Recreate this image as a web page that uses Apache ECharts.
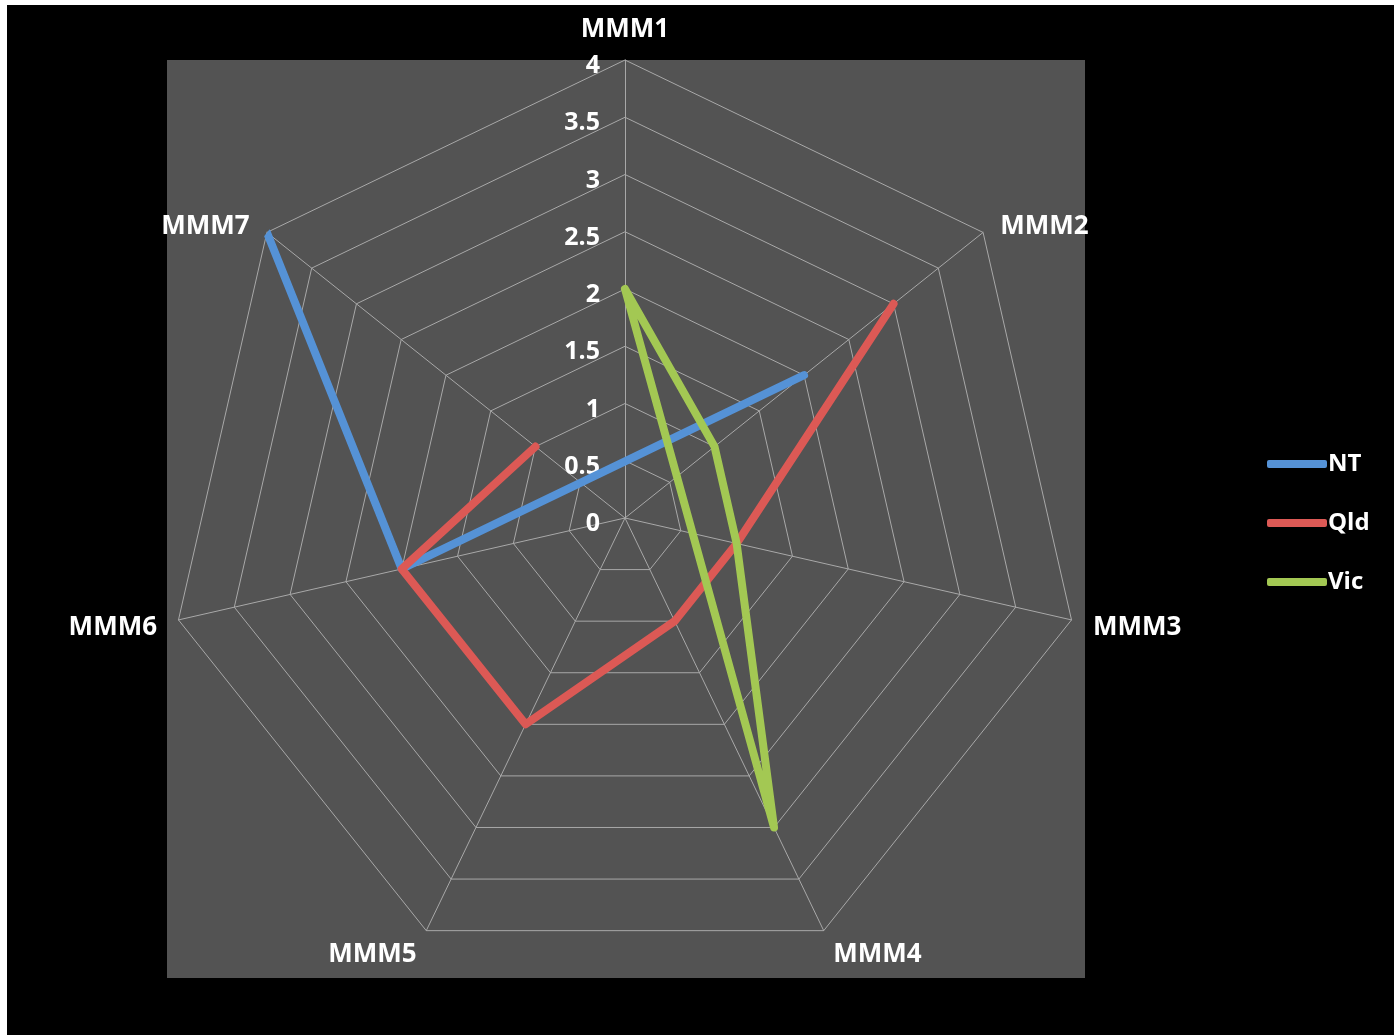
<!DOCTYPE html>
<html>
<head>
<meta charset="utf-8">
<script src="https://cdn.jsdelivr.net/npm/echarts@6/dist/echarts.min.js"></script>
<style>
  html, body { margin: 0; padding: 0; background: #000; }
  #chart { width: 1394px; height: 1035px; }
</style>
</head>
<body>
<div id="chart"></div>
<script>
// categories round the radar, clockwise from the top
const categories = ['MMM1', 'MMM2', 'MMM3', 'MMM4', 'MMM5', 'MMM6', 'MMM7']
const tickLabels = ['0', '0.5', '1', '1.5', '2', '2.5', '3', '3.5', '4']
// null = empty cell in the sheet
const ntValues = [null, 2, null, null, null, 2, 4]
const qldValues = [null, 3, 1, 1, 2, 2, 1]
const vicValues = [2, 1, 1, 3, null, null, null]
const seriesNames = ['NT', 'Qld', 'Vic']
const colors = ['#5592d6', '#dc5955', '#a3c853']

const CX = 625, CY = 518, R = 458
const font = '"Open Sans", "Liberation Sans", sans-serif'

// excel style: skip blanks, only close the loop if the first cell is filled
function toPolar(values) {
  const pts = []
  values.forEach((v, i) => { if (v != null) pts.push([v, i]) })
  if (values[0] != null) pts.push([values[0], 0])
  return pts
}

// radar lays indicators out counter-clockwise, so feed them reversed
const radarOrder = [categories[0]].concat(categories.slice(1).reverse())
// label nudges, by position round the chart
const nameStyleKey = ['top', 'upper', 'side', 'bottom', 'bottom', 'side', 'upper']
const nameBase = { fontFamily: font, fontWeight: 'bold', fontSize: 26, color: '#fff' }

const chart = echarts.init(document.getElementById('chart'))
chart.setOption({
  backgroundColor: '#000',
  animation: false,
  graphic: [
    { type: 'rect', z: -100, shape: { x: 167, y: 60, width: 918, height: 918 }, style: { fill: '#535353' } },
    { type: 'rect', z: -100, shape: { x: 0, y: 0, width: 1394, height: 5 }, style: { fill: '#fff' } },
    { type: 'rect', z: -100, shape: { x: 0, y: 0, width: 7, height: 1035 }, style: { fill: '#fff' } }
  ],
  radar: {
    center: [CX, CY],
    radius: R,
    startAngle: 90,
    shape: 'polygon',
    splitNumber: 8,
    indicator: radarOrder.map(c => ({ name: c, min: 0, max: 4 })),
    nameGap: 22,
    axisName: Object.assign({}, nameBase, {
      verticalAlign: 'middle',
      formatter: (name) => '{' + nameStyleKey[categories.indexOf(name)] + '|' + name + '}',
      rich: {
        top: Object.assign({ padding: [0, 0, 16, 0] }, nameBase),
        upper: Object.assign({ padding: [16, 0, 0, 0] }, nameBase),
        side: Object.assign({ padding: [6, 0, 0, 0] }, nameBase),
        bottom: Object.assign({ padding: [8, 0, 0, 0] }, nameBase)
      }
    }),
    axisLine: { lineStyle: { color: '#a8a8a8', width: 1 } },
    splitLine: { lineStyle: { color: '#a8a8a8', width: 1 } },
    splitArea: { show: false }
  },
  polar: { center: [CX, CY], radius: R },
  // one unit of angle per category, full turn = 7
  angleAxis: {
    type: 'value',
    min: 0,
    max: categories.length,
    startAngle: 90,
    clockwise: true,
    axisLine: { show: false },
    axisTick: { show: false },
    axisLabel: { show: false },
    splitLine: { show: false }
  },
  radiusAxis: {
    type: 'value',
    min: 0,
    max: 4,
    interval: 0.5,
    axisLine: { show: false },
    axisTick: { show: false },
    splitLine: { show: false },
    axisLabel: {
      margin: 25,
      color: '#fff',
      fontFamily: font,
      fontWeight: 'bold',
      fontSize: 25,
      verticalAlign: 'top',
      lineHeight: 12,
      formatter: (v) => tickLabels[Math.round(v * 2)]
    }
  },
  legend: {
    orient: 'vertical',
    left: 1262,
    top: 447,
    itemWidth: 60,
    itemHeight: 8,
    itemGap: 35,
    icon: 'roundRect',
    textStyle: { color: '#fff', fontFamily: font, fontWeight: 'bold', fontSize: 24, padding: [0, 0, 0, -4] },
    data: seriesNames
  },
  series: [ntValues, qldValues, vicValues].map((vals, k) => ({
    name: seriesNames[k],
    type: 'line',
    coordinateSystem: 'polar',
    clip: false,
    data: toPolar(vals),
    symbol: 'none',
    color: colors[k],
    lineStyle: { width: 8, color: colors[k], cap: 'round', join: 'round' }
  }))
})
</script>
</body>
</html>
